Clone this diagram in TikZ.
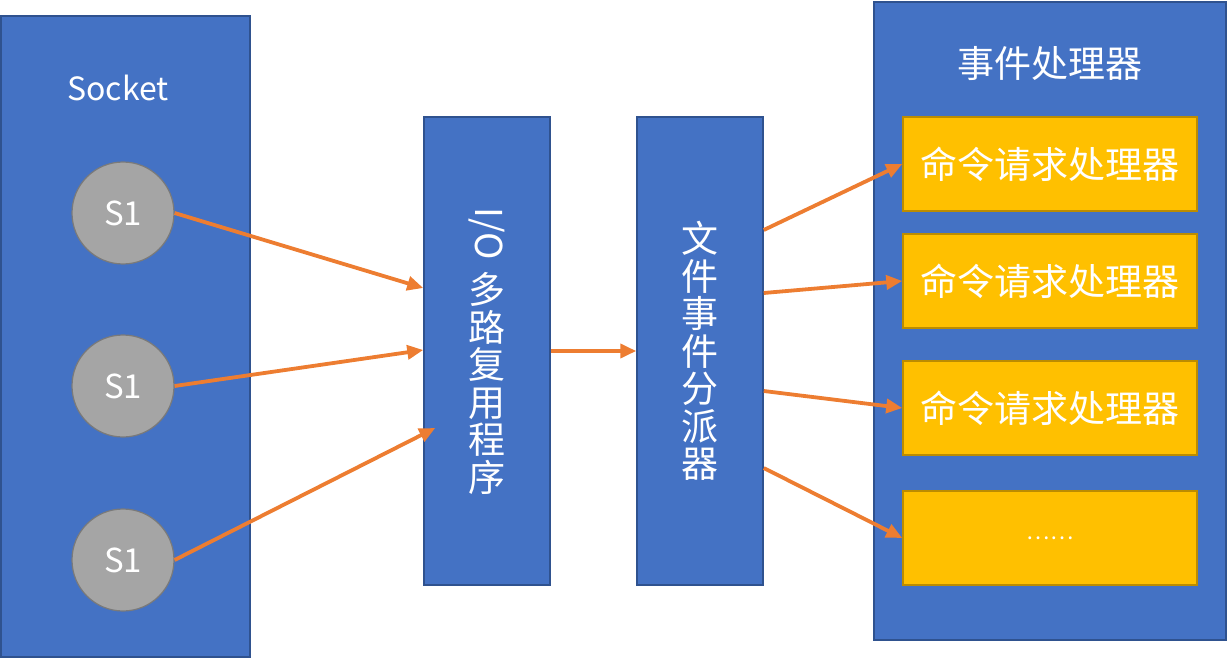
\documentclass[tikz,border=0pt]{standalone}
\usepackage{fontspec}
\setmainfont{Noto Sans CJK SC}
\usetikzlibrary{arrows.meta}
\definecolor{panelblue}{HTML}{4472C4}
\definecolor{paneledge}{HTML}{2F528F}
\definecolor{sockgray}{HTML}{A5A5A5}
\definecolor{sockedge}{HTML}{7A7A7A}
\definecolor{handleryellow}{HTML}{FFC000}
\definecolor{handleredge}{HTML}{BC8C00}
\definecolor{floworange}{HTML}{ED7D31}
\tikzstyle{panel}=[draw=paneledge, fill=panelblue, line width=1.5pt, inner sep=0pt, text=white, font=\fontsize{37}{37.5}\selectfont]
\tikzstyle{sock}=[circle, draw=sockedge, fill=sockgray, line width=1.2pt, minimum size=102pt, inner sep=0pt, text=white, font=\fontsize{33}{33}\selectfont]
\tikzstyle{handler}=[draw=handleredge, fill=handleryellow, line width=1.5pt, minimum width=294pt, minimum height=94pt, text=white, font=\fontsize{37}{37}\selectfont]
\tikzstyle{flow}=[draw=floworange, line width=3.8pt, -{Triangle[length=16pt, width=14pt]}]

\begin{document}
\begin{tikzpicture}[x=1pt, y=-1pt]
        \useasboundingbox (0, 0) rectangle (1228, 660);
        % panels
        \node[panel, minimum width=249pt, minimum height=641pt] (sockpanel) at (125.5, 336.5) {};
        \node[panel, minimum width=352pt, minimum height=638pt] (hpanel) at (1050, 321) {};
        \node[text=white, font=\fontsize{32}{32}\selectfont] (socklabel) at (118, 88) {Socket};
        \node[text=white, font=\fontsize{37}{37}\selectfont] (hlabel) at (1050, 63) {事件处理器};
        % sockets
        \node[sock] (s1a) at (123, 213) {S1};
        \node[sock] (s1b) at (123, 386) {S1};
        \node[sock] (s1c) at (123, 560) {S1};
        % middle boxes
        \node[panel, minimum width=126pt, minimum height=468pt, align=center] (io) at (487, 351)
            {\rotatebox{-90}{I/O}\\[12pt]多\\路\\复\\用\\程\\序};
        \node[panel, minimum width=126pt, minimum height=468pt, align=center] (disp) at (700, 351)
            {文\\件\\事\\件\\分\\派\\器};
        % handlers
        \node[handler] (h1) at (1050, 164) {命令请求处理器};
        \node[handler] (h2) at (1050, 281) {命令请求处理器};
        \node[handler] (h3) at (1050, 408) {命令请求处理器};
        \node[handler, font=\fontsize{22}{22}\selectfont] (h4) at (1050, 538) {……};
        % arrow ends on the multiplexer
        \coordinate (ioa) at ([yshift=63pt]io.west);
        \coordinate (iob) at ([yshift=1pt]io.west);
        \coordinate (ioc) at ([xshift=12pt, yshift=-77pt]io.west);
        \draw[flow] (s1a.east) -- (ioa);
        \draw[flow] (s1b.east) -- (iob);
        \draw[flow] (s1c.east) -- (ioc);
        \draw[flow] (io.east) -- (disp.west);
        \draw[flow] ([yshift=121pt]disp.east) -- (h1.west);
        \draw[flow] ([yshift=58pt]disp.east) -- (h2.west);
        \draw[flow] ([yshift=-40pt]disp.east) -- (h3.west);
        \draw[flow] ([yshift=-117pt]disp.east) -- (h4.west);
    \end{tikzpicture}
\end{document}
